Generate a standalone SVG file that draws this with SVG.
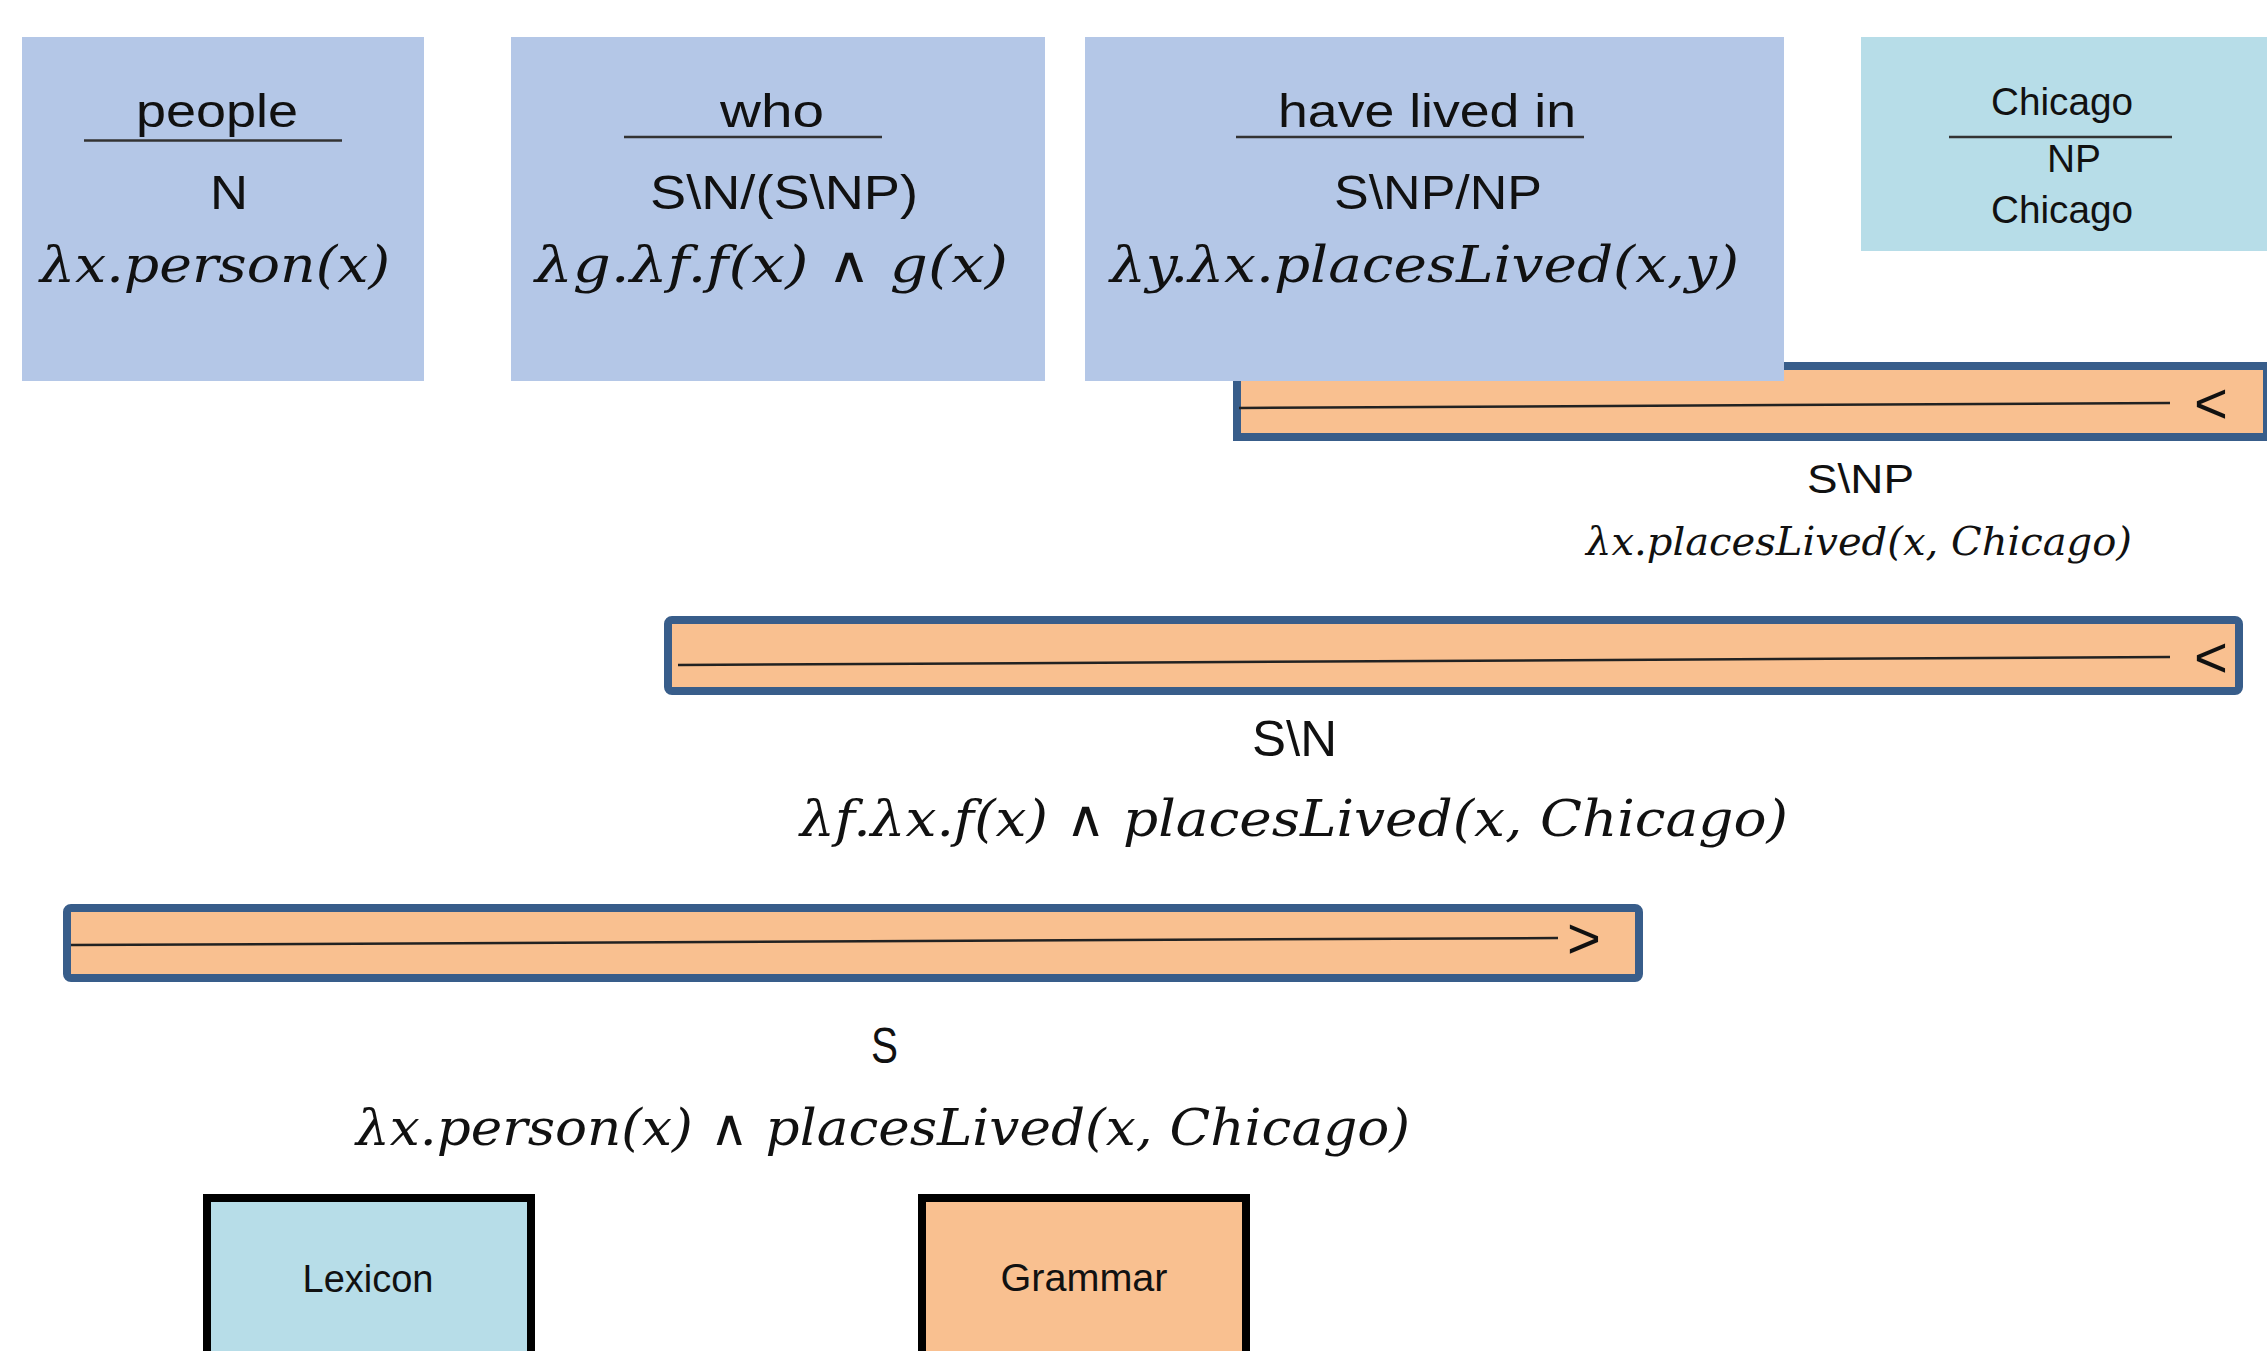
<svg xmlns="http://www.w3.org/2000/svg" width="2267" height="1351" viewBox="0 0 2267 1351">
<style>
.lex{fill:#b4c7e7;}
.cyan{fill:#b7dde8;}
.bar{fill:#f9c090;stroke:#385d8a;stroke-width:8;}
.leg{stroke:#000;stroke-width:8;}
.sans{font-family:"Liberation Sans",Arial,sans-serif;fill:#111;}
.math{font-family:"DejaVu Serif","Liberation Serif",serif;font-style:italic;fill:#111;}
.ul{stroke:#333;stroke-width:2.5;}
.rule{stroke:#222;stroke-width:2.5;fill:none;}
.op{font-family:"Liberation Sans",Arial,sans-serif;font-size:58px;fill:#111;}
</style>
<rect width="2267" height="1351" fill="#fff"/>

<!-- derivation bars (drawn first so lexical boxes overlap) -->
<g id="bar-snp">
  <rect class="bar" x="1237" y="366" width="1030" height="71"/>
  <text class="op" x="2194" y="423">&lt;</text>
  <text class="sans" x="1807" y="493" font-size="40" textLength="107" lengthAdjust="spacingAndGlyphs">S\NP</text>
  <text class="math" x="1586" y="555" font-size="39" textLength="546" lengthAdjust="spacingAndGlyphs">λx.placesLived(x, Chicago)</text>
</g>
<g id="bar-sn">
  <rect class="bar" x="668" y="620" width="1571" height="71" rx="4"/>
  <text class="op" x="2194" y="677">&lt;</text>
  <text class="sans" x="1252" y="756" font-size="50" textLength="85" lengthAdjust="spacingAndGlyphs">S\N</text>
  <text class="math" x="800" y="836" font-size="50" textLength="988" lengthAdjust="spacingAndGlyphs">λf.λx.f(x) ∧ placesLived(x, Chicago)</text>
</g>
<g id="bar-s">
  <rect class="bar" x="67" y="908" width="1572" height="70" rx="4"/>
  <text class="op" x="1567" y="958">&gt;</text>
  <text class="sans" x="871" y="1063" font-size="50" textLength="27" lengthAdjust="spacingAndGlyphs">S</text>
  <text class="math" x="356" y="1145" font-size="50" textLength="1054" lengthAdjust="spacingAndGlyphs">λx.person(x) ∧ placesLived(x, Chicago)</text>
</g>

<g id="connectors">
  <line class="rule" x1="1239" y1="408" x2="2170" y2="403"/>
  <line class="rule" x1="678" y1="665" x2="2170" y2="657"/>
  <line class="rule" x1="71" y1="945" x2="1558" y2="938"/>
</g>

<g id="people">
  <rect class="lex" x="22" y="37" width="402" height="344"/>
  <text class="sans" x="136" y="127" font-size="46" textLength="162" lengthAdjust="spacingAndGlyphs">people</text>
  <line class="ul" x1="84" y1="140.5" x2="342" y2="140.5"/>
  <text class="sans" x="210" y="209" font-size="48" textLength="38" lengthAdjust="spacingAndGlyphs">N</text>
  <text class="math" x="40" y="282" font-size="50" textLength="350" lengthAdjust="spacingAndGlyphs">λx.person(x)</text>
</g>
<g id="who">
  <rect class="lex" x="511" y="37" width="534" height="344"/>
  <text class="sans" x="720" y="127" font-size="46" textLength="104" lengthAdjust="spacingAndGlyphs">who</text>
  <line class="ul" x1="624" y1="137" x2="882" y2="137"/>
  <text class="sans" x="650" y="209" font-size="48" textLength="268" lengthAdjust="spacingAndGlyphs">S\N/(S\NP)</text>
  <text class="math" x="535" y="282" font-size="50" textLength="473" lengthAdjust="spacingAndGlyphs">λg.λf.f(x) ∧ g(x)</text>
</g>
<g id="have-lived-in">
  <rect class="lex" x="1085" y="37" width="699" height="344"/>
  <text class="sans" x="1278" y="127" font-size="46" textLength="298" lengthAdjust="spacingAndGlyphs">have lived in</text>
  <line class="ul" x1="1236" y1="137" x2="1584" y2="137"/>
  <text class="sans" x="1334" y="209" font-size="48" textLength="208" lengthAdjust="spacingAndGlyphs">S\NP/NP</text>
  <text class="math" x="1110" y="282" font-size="50" textLength="629" lengthAdjust="spacingAndGlyphs">λy.λx.placesLived(x,y)</text>
</g>
<g id="chicago">
  <rect class="cyan" x="1861" y="37" width="406" height="214"/>
  <text class="sans" x="1991" y="115" font-size="38" textLength="142" lengthAdjust="spacingAndGlyphs">Chicago</text>
  <line class="ul" x1="1949" y1="137" x2="2172" y2="137"/>
  <text class="sans" x="2047" y="172" font-size="38" textLength="54" lengthAdjust="spacingAndGlyphs">NP</text>
  <text class="sans" x="1991" y="223" font-size="38" textLength="142" lengthAdjust="spacingAndGlyphs">Chicago</text>
</g>

<g id="legend-lexicon">
  <rect class="cyan leg" x="207" y="1198" width="324" height="200"/>
  <text class="sans" x="368" y="1292" font-size="38" text-anchor="middle" textLength="131" lengthAdjust="spacingAndGlyphs">Lexicon</text>
</g>
<g id="legend-grammar">
  <rect class="leg" fill="#f9c090" x="922" y="1198" width="324" height="200"/>
  <text class="sans" x="1084" y="1291" font-size="38" text-anchor="middle" textLength="167" lengthAdjust="spacingAndGlyphs">Grammar</text>
</g>
</svg>
